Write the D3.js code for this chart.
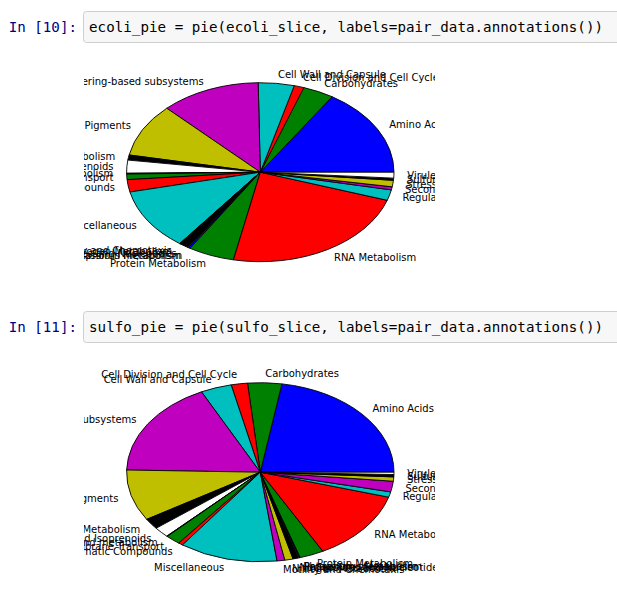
<!DOCTYPE html>
<html>
<head>
<meta charset="utf-8">
<script src="https://cdn.jsdelivr.net/npm/d3@7"></script>
<style>
html,body{margin:0;padding:0;background:#fff;}
svg{display:block;}
</style>
</head>
<body>
<svg id="chart" width="617" height="589"></svg>
<script>
// Category labels (pair_data.annotations())
const categories = [
  "Amino Acids and Derivatives",
  "Carbohydrates",
  "Cell Division and Cell Cycle",
  "Cell Wall and Capsule",
  "Clustering-based subsystems",
  "Cofactors, Vitamins, Prosthetic Groups, Pigments",
  "DNA Metabolism",
  "Fatty Acids, Lipids, and Isoprenoids",
  "Iron acquisition and metabolism",
  "Membrane Transport",
  "Metabolism of Aromatic Compounds",
  "Miscellaneous",
  "Motility and Chemotaxis",
  "Nitrogen Metabolism",
  "Nucleosides and Nucleotides",
  "Phosphorus Metabolism",
  "Potassium metabolism",
  "Protein Metabolism",
  "RNA Metabolism",
  "Regulation and Cell signaling",
  "Secondary Metabolism",
  "Stress Response",
  "Sulfur Metabolism",
  "Virulence, Disease and Defense"
];

// Estimated slice sizes (relative units)
const ecoliValues = [57.5, 13.5, 4.3, 15.6, 43.5, 34.5, 3.3, 8.5, 0.5, 3.6, 8.0, 40.1,
                     0.2, 0.2, 4.0, 0.2, 0.8, 20.1, 83.3, 6.9, 2.0, 4.2, 1.4, 3.8];
const sulfoValues = [80.7, 14.8, 7.1, 13.5, 62.5, 33.2, 7.0, 6.8, 0.3, 6.5, 2.0, 42.8,
                     3.4, 3.6, 2.6, 0.3, 0.3, 10.5, 45.9, 3.5, 6.9, 2.8, 1.5, 1.5];

// Notebook cell sources
const cellPrompts = ["In [10]:", "In [11]:"];
const cellCode = [
  "ecoli_pie = pie(ecoli_slice, labels=pair_data.annotations())",
  "sulfo_pie = pie(sulfo_slice, labels=pair_data.annotations())"
];

// matplotlib default colour cycle
const colorCycle = ["#0000ff", "#008000", "#ff0000", "#00bfbf", "#bf00bf", "#bfbf00", "#000000", "#ffffff"];

const svg = d3.select("#chart");
const color = d3.scaleOrdinal().domain(d3.range(categories.length)).range(colorCycle);

const cells = [
  {prompt: cellPrompts[0], code: cellCode[0], top: 11, values: ecoliValues, cy: 172.2, figTop: 56, figBottom: 286},
  {prompt: cellPrompts[1], code: cellCode[1], top: 311, values: sulfoValues, cy: 472.2, figTop: 356, figBottom: 586}
];

const cx = 260.3, rx = 133.7, ry = 89.5;

cells.forEach((c, ci) => {
  // input cell
  svg.append("rect")
    .attr("x", 83.5).attr("y", c.top + 0.5)
    .attr("width", 560).attr("height", 31)
    .attr("rx", 3)
    .attr("fill", "#f7f7f7").attr("stroke", "#cfcfcf");
  svg.append("text")
    .attr("x", 77).attr("y", c.top + 16)
    .attr("text-anchor", "end").attr("dominant-baseline", "central")
    .attr("font-family", "DejaVu Sans Mono, monospace").attr("font-size", "14.2px")
    .attr("fill", "#000080").text(c.prompt);
  svg.append("text")
    .attr("x", 89).attr("y", c.top + 16)
    .attr("dominant-baseline", "central")
    .attr("font-family", "DejaVu Sans Mono, monospace").attr("font-size", "14.2px")
    .attr("textLength", 514).attr("lengthAdjust", "spacing")
    .attr("fill", "#000").text(c.code);

  // figure
  const clipId = "clip" + ci;
  svg.append("clipPath").attr("id", clipId)
    .append("rect").attr("x", 84).attr("y", c.figTop)
    .attr("width", 435 - 84).attr("height", c.figBottom - c.figTop);

  const g = svg.append("g").attr("clip-path", `url(#${clipId})`);

  const x = d3.scaleLinear().domain([-1, 1]).range([cx - rx, cx + rx]);
  const y = d3.scaleLinear().domain([-1, 1]).range([c.cy + ry, c.cy - ry]);

  // counter-clockwise from 3 o'clock, like matplotlib
  const pie = d3.pie().sort(null).value(d => d)
    .startAngle(Math.PI / 2).endAngle(Math.PI / 2 - 2 * Math.PI);
  const arcs = pie(c.values);
  const arc = d3.arc().innerRadius(0).outerRadius(rx);

  const wedges = g.append("g")
    .attr("transform", `translate(${x(0)},${y(0)}) scale(1,${ry / rx})`);
  wedges.selectAll("path").data(arcs).join("path")
    .attr("d", arc)
    .attr("fill", (d, i) => color(i))
    .attr("stroke", "#000")
    .attr("stroke-width", 0.9)
    .attr("stroke-linejoin", "round")
    .attr("vector-effect", "non-scaling-stroke");

  // labels at 1.1 radius
  g.append("g").selectAll("text").data(arcs).join("text")
    .each(function(d, i) {
      const mid = (d.startAngle + d.endAngle) / 2;      // d3 angle
      const theta = Math.PI / 2 - mid;                  // matplotlib angle
      const lx = 1.1 * Math.cos(theta), ly = 1.1 * Math.sin(theta);
      d3.select(this)
        .attr("x", x(lx)).attr("y", y(ly))
        .attr("text-anchor", lx > 0 ? "start" : "end")
        .attr("dominant-baseline", "central")
        .text(categories[i]);
    })
    .attr("font-family", "DejaVu Sans, sans-serif")
    .attr("font-size", "10px")
    .attr("fill", "#000");
});
</script>
</body>
</html>
